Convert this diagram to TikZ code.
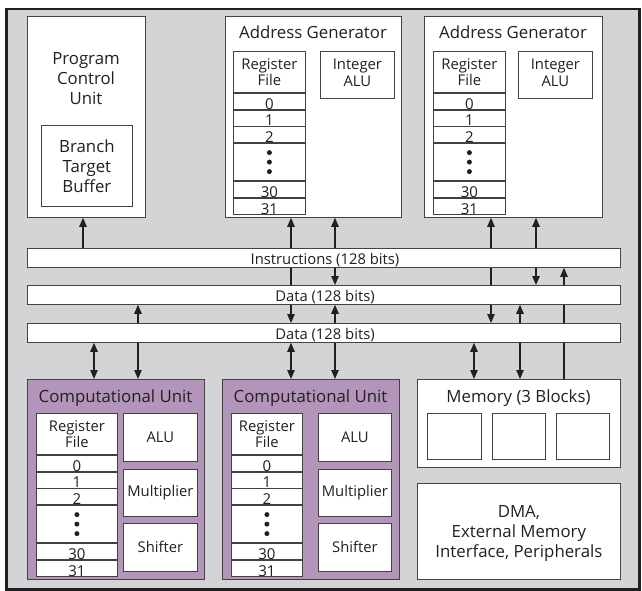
\documentclass[tikz,border=0pt]{standalone}
\usepackage{fontspec}
\setmainfont{Open Sans}
\usetikzlibrary{arrows.meta}
\definecolor{bgray}{HTML}{D3D4D6}
\definecolor{cupurple}{HTML}{B394BB}
\definecolor{ink}{HTML}{231F20}
\pgfdeclarelayer{bg}
\pgfdeclarelayer{wires}
\pgfsetlayers{bg,wires,main}

% register file: #1 name, #2 x left, #3 width, #4 y top
\newcommand\regfile[4]{%
  \node[box, minimum width=#3pt, minimum height=41pt] (#1h) at (#2,#4) {};
  \node[lbl] (#1t) at (#1h.center) {Register\\File};
  \node[box, minimum width=#3pt, minimum height=16pt] (#1a) at (#1h.south west) {};
  \node[box, minimum width=#3pt, minimum height=16pt] (#1b) at (#1a.south west) {};
  \node[box, minimum width=#3pt, minimum height=16pt] (#1c) at (#1b.south west) {};
  \node[box, minimum width=#3pt, minimum height=37pt] (#1d) at (#1c.south west) {};
  \node[box, minimum width=#3pt, minimum height=16pt] (#1e) at (#1d.south west) {};
  \node[box, minimum width=#3pt, minimum height=16pt] (#1f) at (#1e.south west) {};
  \node[num] (#1na) at ([yshift=0.5pt]#1a.south) {0};
  \node[num] (#1nb) at ([yshift=0.5pt]#1b.south) {1};
  \node[num] (#1nc) at ([yshift=0.5pt]#1c.south) {2};
  \node[num] (#1ne) at ([yshift=0.5pt]#1e.south) {30};
  \node[num] (#1nf) at ([yshift=0.5pt]#1f.south) {31};
  \fill[ink] ([yshift=9.5pt]#1d.center) circle[radius=2.5pt];
  \fill[ink] (#1d.center) circle[radius=2.5pt];
  \fill[ink] ([yshift=-9.5pt]#1d.center) circle[radius=2.5pt];
}

\begin{document}
\begin{tikzpicture}[x=1pt,y=-1pt,
  box/.style={draw=ink!85, fill=white, line width=0.8pt, inner sep=0pt, anchor=north west},
  cubox/.style={box, fill=cupurple},
  bar/.style={box, minimum width=593pt, minimum height=19pt},
  title/.style={font=\fontsize{16.8}{20}\selectfont, text=ink, inner sep=0pt, align=center},
  lbl/.style={font=\fontsize{14.8}{16.5}\selectfont, text=ink, inner sep=0pt, align=center},
  num/.style={font=\fontsize{15}{16}\selectfont, text=ink, inner sep=0pt, anchor=base},
  wire/.style={draw=ink, line width=1.1pt, >={Triangle[length=9pt,width=7.5pt]}}]
\useasboundingbox (0,0) rectangle (642,591);

\begin{pgfonlayer}{bg}
\node[draw=ink, fill=bgray, line width=2.5pt, inner sep=0pt, anchor=north west,
      minimum width=633pt, minimum height=580pt] (frame) at (5,8) {};
\end{pgfonlayer}

% Program control unit
\node[box, minimum width=118pt, minimum height=201pt] (pcu) at (27,16) {};
\node[title] (pcut) at (86,79) {Program\\Control\\Unit};
\node[box, minimum width=91pt, minimum height=81pt] (btb) at (41,125) {};
\node[title] (btbt) at (btb.center) {Branch\\Target\\Buffer};

% Address generators
\node[box, minimum width=176pt, minimum height=201pt] (ag1) at (225,16) {};
\node[title, anchor=base] (ag1t) at (313,39) {Address Generator};
\regfile{rfa}{233}{72}{51}
\node[box, minimum width=74pt, minimum height=47pt] (ia1) at (320,51) {};
\node[lbl] (ia1t) at ([yshift=2pt]ia1.center) {Integer\\ALU};

\node[box, minimum width=178pt, minimum height=201pt] (ag2) at (424,16) {};
\node[title, anchor=base] (ag2t) at (513,39) {Address Generator};
\regfile{rfb}{433}{72}{51}
\node[box, minimum width=74pt, minimum height=47pt] (ia2) at (518,51) {};
\node[lbl] (ia2t) at ([yshift=2pt]ia2.center) {Integer\\ALU};

% Buses
\node[bar] (instr) at (27,248) {};
\node[lbl, anchor=base] (instrt) at (325,264) {Instructions (128 bits)};
\node[bar] (data1) at (27,285) {};
\node[lbl, anchor=base] (data1t) at (325,301) {Data (128 bits)};
\node[bar] (data2) at (27,323) {};
\node[lbl, anchor=base] (data2t) at (325,339) {Data (128 bits)};

% Computational units
\node[cubox, minimum width=177pt, minimum height=200pt] (cu1) at (27,379) {};
\node[title, anchor=base] (cu1t) at (115.5,402) {Computational Unit};
\regfile{rfc}{36}{81}{413}
\node[box, minimum width=74pt, minimum height=48pt] (alu1) at (123,413) {};
\node[lbl] at (alu1.center) {ALU};
\node[box, minimum width=74pt, minimum height=47pt] (mul1) at (123,469) {};
\node[lbl] at (mul1.center) {Multiplier};
\node[box, minimum width=74pt, minimum height=48pt] (sh1) at (123,523) {};
\node[lbl] at (sh1.center) {Shifter};

\node[cubox, minimum width=177pt, minimum height=200pt] (cu2) at (222,379) {};
\node[title, anchor=base] (cu2t) at (310.5,402) {Computational Unit};
\regfile{rfd}{231}{71}{413}
\node[box, minimum width=73pt, minimum height=48pt] (alu2) at (318,413) {};
\node[lbl] at (alu2.center) {ALU};
\node[box, minimum width=73pt, minimum height=47pt] (mul2) at (318,469) {};
\node[lbl] at (mul2.center) {Multiplier};
\node[box, minimum width=73pt, minimum height=48pt] (sh2) at (318,523) {};
\node[lbl] at (sh2.center) {Shifter};

% Memory
\node[box, minimum width=203pt, minimum height=88pt] (mem) at (417,379) {};
\node[title, anchor=base] (memt) at (518.5,402) {Memory (3 Blocks)};
\node[box, minimum width=54pt, minimum height=46pt] (mb1) at (427,413) {};
\node[box, minimum width=53pt, minimum height=46pt] (mb2) at (492,413) {};
\node[box, minimum width=53pt, minimum height=46pt] (mb3) at (556,413) {};

% DMA
\node[box, minimum width=203pt, minimum height=96pt] (dma) at (417,483) {};
\node[title] (dmat) at ([yshift=-2pt]dma.center) {DMA,\\External Memory\\Interface, Peripherals};

% Connectors
\coordinate (xa) at (83,0);
\coordinate (xb) at (291,0);
\coordinate (xc) at (335,0);
\coordinate (xd) at (491,0);
\coordinate (xe) at (536,0);
\coordinate (xf) at (94,0);
\coordinate (xg) at (138,0);
\coordinate (xh) at (474,0);
\coordinate (xi) at (520,0);
\coordinate (xj) at (564,0);
\begin{pgfonlayer}{wires}
\draw[wire,->] (instr.north -| xa) -- (pcu.south -| xa);
\draw[wire,<->] (data2.north -| xb) -- (ag1.south -| xb);
\draw[wire,<->] (data1.north -| xc) -- (ag1.south -| xc);
\draw[wire,<->] (data2.north -| xd) -- (ag2.south -| xd);
\draw[wire,<->] (data1.north -| xe) -- (ag2.south -| xe);
\draw[wire,<->] (data2.south -| xf) -- (cu1.north -| xf);
\draw[wire,<->] (data1.south -| xg) -- (cu1.north -| xg);
\draw[wire,<->] (data2.south -| xb) -- (cu2.north -| xb);
\draw[wire,<->] (data1.south -| xc) -- (cu2.north -| xc);
\draw[wire,<->] (data2.south -| xh) -- (mem.north -| xh);
\draw[wire,<->] (data1.south -| xi) -- (mem.north -| xi);
\draw[wire,->] (mem.north -| xj) -- (instr.south -| xj);
\end{pgfonlayer}
\end{tikzpicture}
\end{document}
